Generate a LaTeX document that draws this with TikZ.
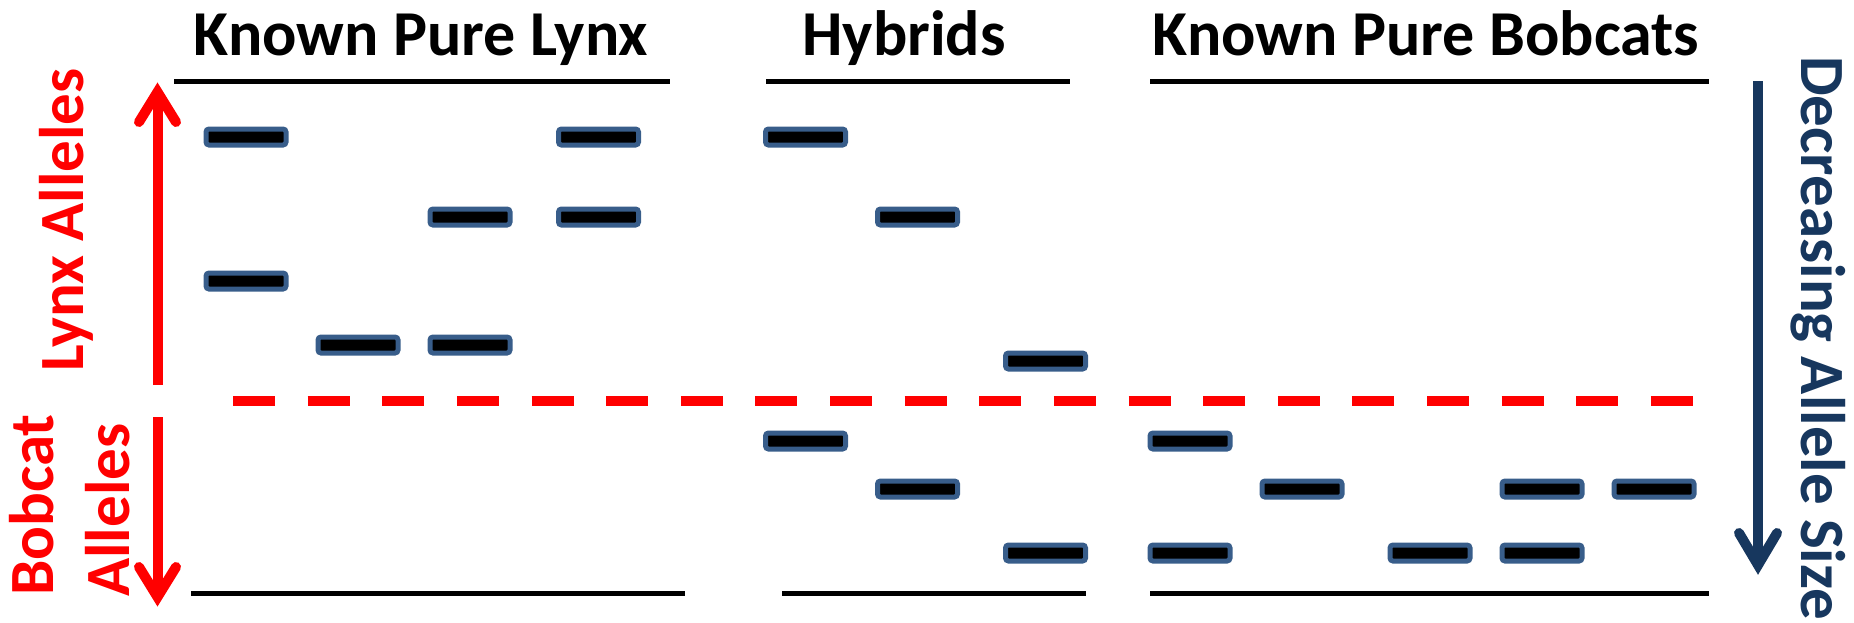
\documentclass[tikz,border=0pt]{standalone}
\usepackage{fontspec}
\setmainfont{Carlito}
\definecolor{bandblue}{HTML}{385D8A}
\definecolor{navy}{HTML}{17375E}
\definecolor{pure red}{HTML}{FF0000}
\begin{document}
\begin{tikzpicture}[x=1pt,y=-1pt,
  band/.style={draw=bandblue, line width=5pt, fill=black, rounded corners=3pt,
    minimum width=80pt, minimum height=16pt, inner sep=0pt},
  rule/.style={line width=5pt, black},
  title/.style={anchor=base, inner sep=0pt, font=\fontsize{64}{72}\selectfont\bfseries},
  sidelabel/.style={inner sep=0pt, font=\fontsize{63}{70}\selectfont\bfseries},
  shaft/.style={line width=10pt},
  barb/.style={line width=10pt, line cap=round, line join=miter}
]
\useasboundingbox (0,0) rectangle (1854,622);

% column headings
\node[title] (tLynx) at (421,55) {Known Pure Lynx};
\node[title] (tHyb) at (904,55) {Hybrids};
\node[title] (tBob) at (1426,55) {Known Pure Bobcats};

% top and bottom rules of each lane
\coordinate (lt1) at (174,81);  \coordinate (lt2) at (670,81);
\coordinate (ht1) at (766,81);  \coordinate (ht2) at (1070,81);
\coordinate (bt1) at (1150,81); \coordinate (bt2) at (1709,81);
\coordinate (lb1) at (191,593); \coordinate (lb2) at (685,593);
\coordinate (hb1) at (782,593); \coordinate (hb2) at (1086,593);
\coordinate (bb1) at (1150,593); \coordinate (bb2) at (1709,593);
\draw[rule] (lt1) -- (lt2);
\draw[rule] (ht1) -- (ht2);
\draw[rule] (bt1) -- (bt2);
\draw[rule] (lb1) -- (lb2);
\draw[rule] (hb1) -- (hb2);
\draw[rule] (bb1) -- (bb2);

% lynx / bobcat boundary
\coordinate (d1) at (233,401); \coordinate (d2) at (1694,401);
\draw[pure red, line width=10pt, dash pattern=on 42pt off 32.63pt] (d1) -- (d2);

% known pure lynx bands
\node[band] (l1a) at (246,137) {};
\node[band] (l1b) at (598.5,137) {};
\node[band] (l2a) at (470,217) {};
\node[band] (l2b) at (598.5,217) {};
\node[band] (l3)  at (246,281) {};
\node[band] (l4a) at (358,345) {};
\node[band] (l4b) at (470,345) {};

% hybrid bands
\node[band] (h1) at (805.5,137) {};
\node[band] (h2) at (917.5,217) {};
\node[band] (h3) at (1045.5,361) {};
\node[band] (h4) at (805.5,441) {};
\node[band] (h5) at (917.5,489) {};
\node[band] (h6) at (1045.5,553) {};

% known pure bobcat bands
\node[band] (b1)  at (1190,441) {};
\node[band] (b2a) at (1302,489) {};
\node[band] (b2b) at (1542,489) {};
\node[band] (b2c) at (1654,489) {};
\node[band] (b3a) at (1190,553) {};
\node[band] (b3b) at (1430,553) {};
\node[band] (b3c) at (1542,553) {};

% lynx allele arrow (up)
\coordinate (ua0) at (157.5,385); \coordinate (ua1) at (157.5,92);
\coordinate (uaL) at (139,122);   \coordinate (uaR) at (176,122);
\draw[pure red, shaft] (ua0) -- (ua1);
\draw[pure red, barb] (uaL) -- (ua1) -- (uaR);

% bobcat allele arrow (down)
\coordinate (da0) at (157.5,417); \coordinate (da1) at (157.5,597);
\coordinate (daL) at (139,567);   \coordinate (daR) at (176,567);
\draw[pure red, shaft] (da0) -- (da1);
\draw[pure red, barb] (daL) -- (da1) -- (daR);

% allele size arrow
\coordinate (sa0) at (1758,81);  \coordinate (sa1) at (1758,565);
\coordinate (saL) at (1739,533); \coordinate (saR) at (1777,533);
\draw[navy, shaft] (sa0) -- (sa1);
\draw[navy, barb] (saL) -- (sa1) -- (saR);

% side labels
\node[sidelabel, text=pure red, rotate=90, anchor=base] (lynxlab) at (83,220) {Lynx Alleles};
\node[sidelabel, text=pure red, rotate=90, anchor=base west] (boblab1) at (53,596) {Bobcat};
\node[sidelabel, text=pure red, rotate=90, anchor=base west] (boblab2) at (129,597) {Alleles};
\node[sidelabel, text=navy, rotate=-90, anchor=base west] (sizelab) at (1801,56) {Decreasing Allele Size};
\end{tikzpicture}
\end{document}
